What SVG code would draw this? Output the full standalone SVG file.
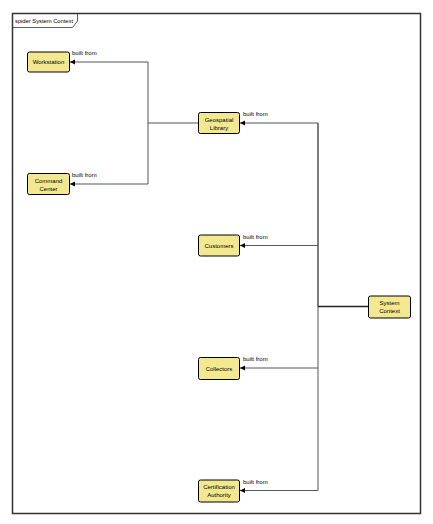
<svg xmlns="http://www.w3.org/2000/svg" width="433" height="524" viewBox="0 0 433 524">
<defs>
<marker id="ah" markerWidth="6" markerHeight="6" refX="5" refY="3" orient="auto" markerUnits="userSpaceOnUse">
<path d="M0,0.5 L5,3 L0,5.5 Z" fill="#000"/>
</marker>
<style>
.node rect{fill:#f3e88f;stroke:#000;stroke-width:1}
.node text{font-family:"Liberation Sans",Arial,sans-serif;font-size:6px;fill:#000;text-anchor:middle}
.lbl{font-family:"Liberation Sans",Arial,sans-serif;font-size:6px;fill:#000}
.edge{fill:none;stroke:#555;stroke-width:1}
</style>
</defs>
<rect width="433" height="524" fill="#fff"/>
<g id="frame">
<rect x="12.5" y="13.5" width="408" height="500" fill="none" stroke="#333" stroke-width="1.5"/>
<path d="M12.5,27.5 H72.5 L77.5,21 V13.5" fill="none" stroke="#333" stroke-width="0.8"/>
<text x="15" y="23" class="lbl" textLength="58" lengthAdjust="spacingAndGlyphs">spider System Context</text>
</g>
<g id="connectors">
<path class="edge" d="M198,123 H148 V62 H70" marker-end="url(#ah)"/>
<path class="edge" d="M148,123 V184 H70" marker-end="url(#ah)"/>
<path class="edge" d="M318,306.5 V123 H240" marker-end="url(#ah)"/>
<path class="edge" d="M318,123 V245.5 H240" marker-end="url(#ah)"/>
<path class="edge" d="M318,245.5 V368 H240" marker-end="url(#ah)"/>
<path class="edge" d="M318,368 V490.5 H240" marker-end="url(#ah)"/>
<path d="M318,306.5 H368" stroke="#222" stroke-width="1.5" fill="none"/>
<text x="72" y="55" class="lbl">built from</text>
<text x="72" y="177" class="lbl">built from</text>
<text x="243" y="116" class="lbl">built from</text>
<text x="243" y="239" class="lbl">built from</text>
<text x="243" y="361" class="lbl">built from</text>
<text x="243" y="484" class="lbl">built from</text>
</g>
<g id="workstation" class="node">
<rect x="27.5" y="52" width="42" height="20" rx="2"/>
<text x="48.5" y="64">Workstation</text>
</g>
<g id="command-center" class="node">
<rect x="27.5" y="173.5" width="42" height="21" rx="2"/>
<text x="48.5" y="182.5">Command</text>
<text x="48.5" y="190.5">Center</text>
</g>
<g id="geospatial-library" class="node">
<rect x="198.5" y="112.5" width="41" height="21" rx="2"/>
<text x="219" y="121.5">Geospatial</text>
<text x="219" y="129.5">Library</text>
</g>
<g id="customers" class="node">
<rect x="198.5" y="235" width="41" height="21" rx="2"/>
<text x="219" y="247.5">Customers</text>
</g>
<g id="system-context" class="node">
<rect x="368.5" y="296" width="42" height="22" rx="2"/>
<text x="389.5" y="305">System</text>
<text x="389.5" y="313">Context</text>
</g>
<g id="collectors" class="node">
<rect x="198.5" y="357.5" width="41" height="22" rx="2"/>
<text x="219" y="370.5">Collectors</text>
</g>
<g id="certification-authority" class="node">
<rect x="198.5" y="480" width="41" height="22" rx="2"/>
<text x="219" y="489">Certification</text>
<text x="219" y="497">Authority</text>
</g>
</svg>
